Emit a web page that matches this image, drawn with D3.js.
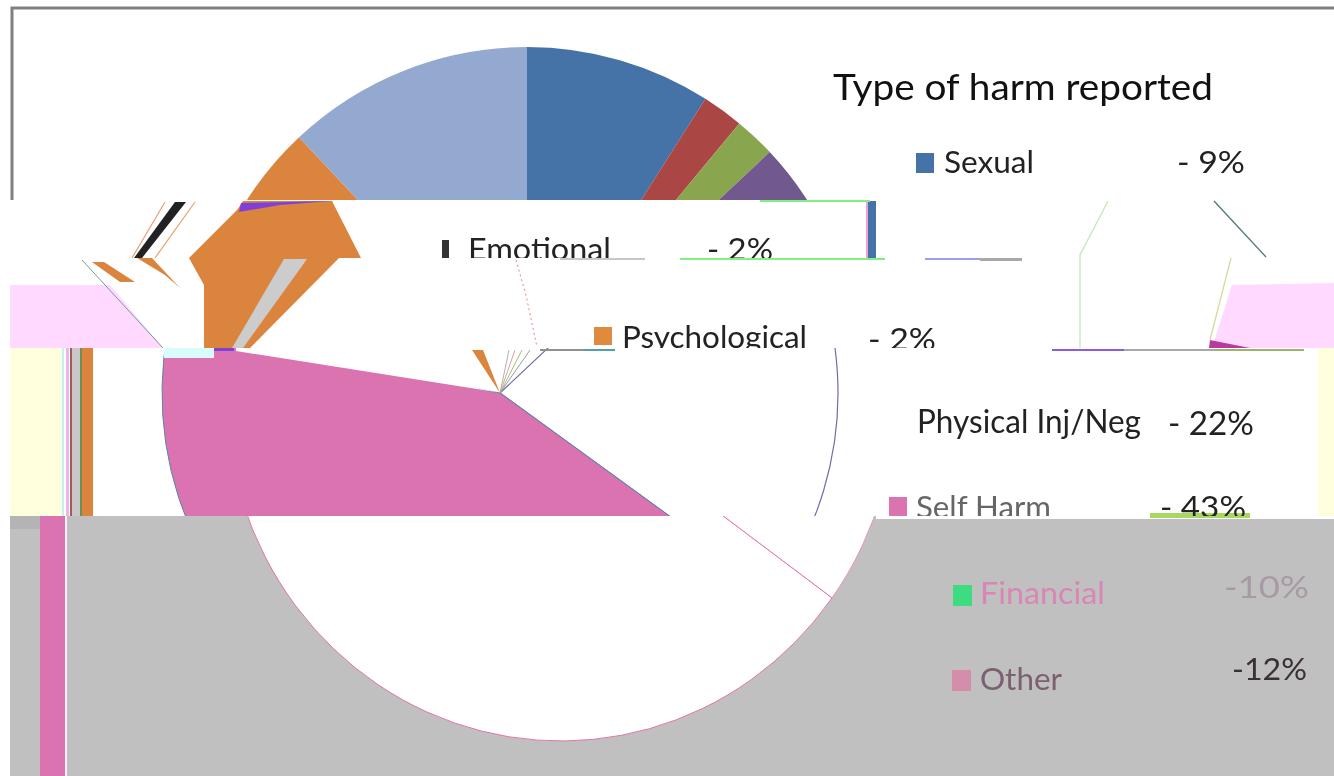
<!DOCTYPE html>
<html><head><meta charset="utf-8">
<script src="https://cdnjs.cloudflare.com/ajax/libs/d3/7.8.5/d3.min.js"></script>
<style>html,body{margin:0;padding:0;background:#fff;overflow:hidden}svg{display:block}text{font-family:Lato,"Open Sans",sans-serif;filter:blur(.5px)}</style>
</head><body><svg id="c" width="1334" height="776"></svg>
<script>
// ---- data ----
const title = "Type of harm reported";
const categories = ["Sexual","Emotional","Psychological","Physical Inj/Neg","Self Harm","Financial","Other"];
const shares = [9,2,2,22,43,10,12];
const shareLabels = ["- 9%","- 2%","- 2%","- 22%","- 43%","-10%","-12%"];
const sliceColors = ["#4572A7","#AA4643","#89A54E","#71588F","#DB73B0","#DB843D","#93A9CF"];

// ---- layout ----
const svg = d3.select("#c");
const defs = svg.append("defs");
function band(id,x,y,w,h){defs.append("clipPath").attr("id",id).append("rect").attr("x",x).attr("y",y).attr("width",w).attr("height",h);return `url(#${id})`;}
const b1 = band("b1",0,0,1334,200), b2 = band("b2",10,200,1324,58), b3 = band("b3",10,258,1324,90),
      b4 = band("b4",10,348,1324,168), b5 = band("b5",10,516,1324,260);

const arcs = d3.pie().value(d=>d).sort(null)(shares);
const arcGen = d3.arc().innerRadius(0);
function pieLayer(cx,cy,rx,ry,clip,style){
  svg.append("g").attr("clip-path",clip).append("g").attr("transform",`translate(${cx},${cy}) scale(${rx/ry},1)`)
    .selectAll("path").data(arcs).join("path")
    .attr("d",d=>arcGen.outerRadius(ry)(d))
    .each(function(d,i){style(d3.select(this),i);});
}
const rect=(x,y,w,h,f)=>svg.append("rect").attr("x",x).attr("y",y).attr("width",w).attr("height",h).attr("fill",f);
const line=d3.line();
const frag=(pts,f,clip)=>svg.append("path").attr("d",line(pts)+"Z").attr("fill",f).attr("clip-path",clip||null);
const stroke=(pts,c,w,dash)=>svg.append("path").attr("d",line(pts)).attr("fill","none").attr("stroke",c).attr("stroke-width",w||1).attr("stroke-dasharray",dash||null);

rect(0,0,1334,776,"#fff");

// band 1: intact pie and frame
pieLayer(527,380,333,333,b1,(s,i)=>s.attr("fill",sliceColors[i]));
stroke([[12,200],[12,8],[1334,8]],"#808080",3);

// band 3 / band 4 backgrounds
frag([[10,285],[110,285],[163,348],[10,348]],"#FFD9FF");
frag([[1232,285],[1334,283],[1334,348],[1212,348]],"#FFD9FF");
frag([[1210,340],[1250,348],[1209,348]],"#B83A9E");
rect(10,348,52,168,"#FFFFDD");
rect(1318,348,16,168,"#FFFFDD");
[[62,2,"#C8F0F0"],[66,3,"#E8B8E8"],[70,2,"#A85A50"],[72,8,"#C8C8C8"],[80,2,"#6E8F50"],[82,11,"#DB843D"]].forEach(d=>rect(d[0],348,d[1],168,d[2]));

// band 4: displaced self-harm slice
pieLayer(500,393,338,338,b4,(s,i)=>{
  if(categories[i]==="Self Harm") s.attr("fill",sliceColors[i]).attr("stroke","#5A88A8").attr("stroke-width",1);
  else s.attr("fill","none").attr("stroke",i===3?"#7A68A8":"none").attr("stroke-width",1.2);
});
frag([[499,392.5],[236,351],[236,348],[290,348]],"#fff");
rect(164,348,50,10,"#D8FCFC");
rect(214,348,20,3,"#8040D8");

// band 5: grey field with white ghost pie
rect(10,516,1324,260,"#C0C0C0");
rect(10,516,30,13,"#B4B4B4");
rect(40,516,25,260,"#DB73B0");
rect(65,516,2,260,"#F4F4F4");
pieLayer(561,394,335,347,b5,(s,i)=>s.attr("fill","#fff").attr("stroke",i===4?"#E070A8":"#E88CC0").attr("stroke-width",1));
rect(876,516,458,3,"#fff");

// displaced fragments (image corruption of the source)
const orange="#DB843D";
frag([[243,201],[332,201],[361,258],[189,258],[237,210]],orange);
frag([[189,258],[339,258],[250,348],[204,348],[204,285]],orange);
frag([[284,259],[307,259],[243,348],[232,348]],"#CCCCCC");
frag([[241,203],[332,201],[280,205],[239,212]],"#8040D8");
frag([[175,202],[186,202],[142,258],[134,258]],"#222");
stroke([[165,202],[132,258]],"#E8A070",1.2);
stroke([[195,202],[155,258]],"#E8A070",1.2);
frag([[137,258],[152,258],[180,288],[165,275]],orange);
frag([[92,262],[104,262],[135,282],[120,282]],orange);
frag([[500,393],[472,350],[483,350]],orange);
[[509,"#B0B0B0"],[515,"#D8A0A0"],[522,"#A0C070"],[530,"#90A0A0"]].forEach(d=>stroke([[500,393],[d[0],350]],d[1],1));
stroke([[516,260],[526,295],[537,347]],"#F08080",1,"2 3");
stroke([[82,260],[163,348]],"#6AA0A0",1);

// thin corrupted rules and lines
rect(868,201,8,57,"#4572A7"); rect(866,201,2,57,"#F0A0E0");
rect(760,200,110,2,"#80F080");
rect(560,258,85,2,"#C8C8C8"); rect(680,258,205,2,"#80F080"); rect(925,258,55,2,"#9AA0F0"); rect(980,258,42,3,"#A8A8A8");
rect(540,349,48,2,"#909090"); rect(585,349,30,2,"#50A0B0");
rect(1052,349,72,2,"#8A5AE0"); rect(1124,349,90,2,"#A8A8A8"); rect(1214,349,90,2,"#A0B070");
rect(1150,513,100,5,"#A8D860");
stroke([[1108,201],[1080,255],[1080,348]],"#C8E8C0",1.4);
stroke([[1214,201],[1266,257]],"#507878",1.3);
stroke([[1231,258],[1210,340]],"#D8D8A0",1.3);

// ---- title and legend ----
svg.append("text").attr("x",833).attr("y",100).attr("font-size",36).attr("fill","#111")
  .attr("textLength",380).attr("lengthAdjust","spacingAndGlyphs").text(title);
const legendLayout=[
 {sx:916,sy:153,sw:18,sh:20,sc:"#4572A7",tx:944,ty:173,tw:90,vx:1177,vy:173,vw:68,fs:30,clip:b1,c:"#222",vc:"#222"},
 {sx:442,sy:240,sw:7,sh:18,sc:"#333",tx:468,ty:260,tw:143,vx:707,vy:260,vw:66,fs:30,clip:b2,c:"#222",vc:"#222"},
 {sx:594,sy:327,sw:18,sh:18,sc:"#E08A3E",tx:622,ty:348,tw:185,vx:868,vy:350,vw:68,fs:30,clip:b3,c:"#222",vc:"#222"},
 {tx:917,ty:433,tw:224,vx:1168,vy:435,vw:86,fs:32,clip:b4,c:"#222",vc:"#222"},
 {sx:889,sy:497,sw:18,sh:19,sc:"#DB73B0",tx:916,ty:518,tw:135,vx:1160,vy:518,vw:86,fs:30,clip:b4,c:"#666",vc:"#222"},
 {sx:953,sy:585,sw:19,sh:21,sc:"#3EDC81",tx:980,ty:604,tw:125,vx:1224,vy:598,vw:85,fs:31,clip:b5,c:"#D986B4",vc:"#A89AA4"},
 {sx:952,sy:670,sw:19,sh:21,sc:"#D48EAB",tx:980,ty:690,tw:82,vx:1232,vy:680,vw:75,fs:31,clip:b5,c:"#7A6070",vc:"#3A3038"}
];
categories.forEach((cat,i)=>{
  const L=legendLayout[i], g=svg.append("g").attr("clip-path",L.clip);
  if(L.sx!==undefined) g.append("rect").attr("x",L.sx).attr("y",L.sy).attr("width",L.sw).attr("height",L.sh).attr("fill",L.sc);
  g.append("text").attr("x",L.tx).attr("y",L.ty).attr("font-size",L.fs).attr("fill",L.c)
    .attr("textLength",L.tw).attr("lengthAdjust","spacingAndGlyphs").text(cat);
  g.append("text").attr("x",L.vx).attr("y",L.vy).attr("font-size",L.fs).attr("fill",L.vc)
    .attr("textLength",L.vw).attr("lengthAdjust","spacingAndGlyphs").text(shareLabels[i]);
});
</script></body></html>
